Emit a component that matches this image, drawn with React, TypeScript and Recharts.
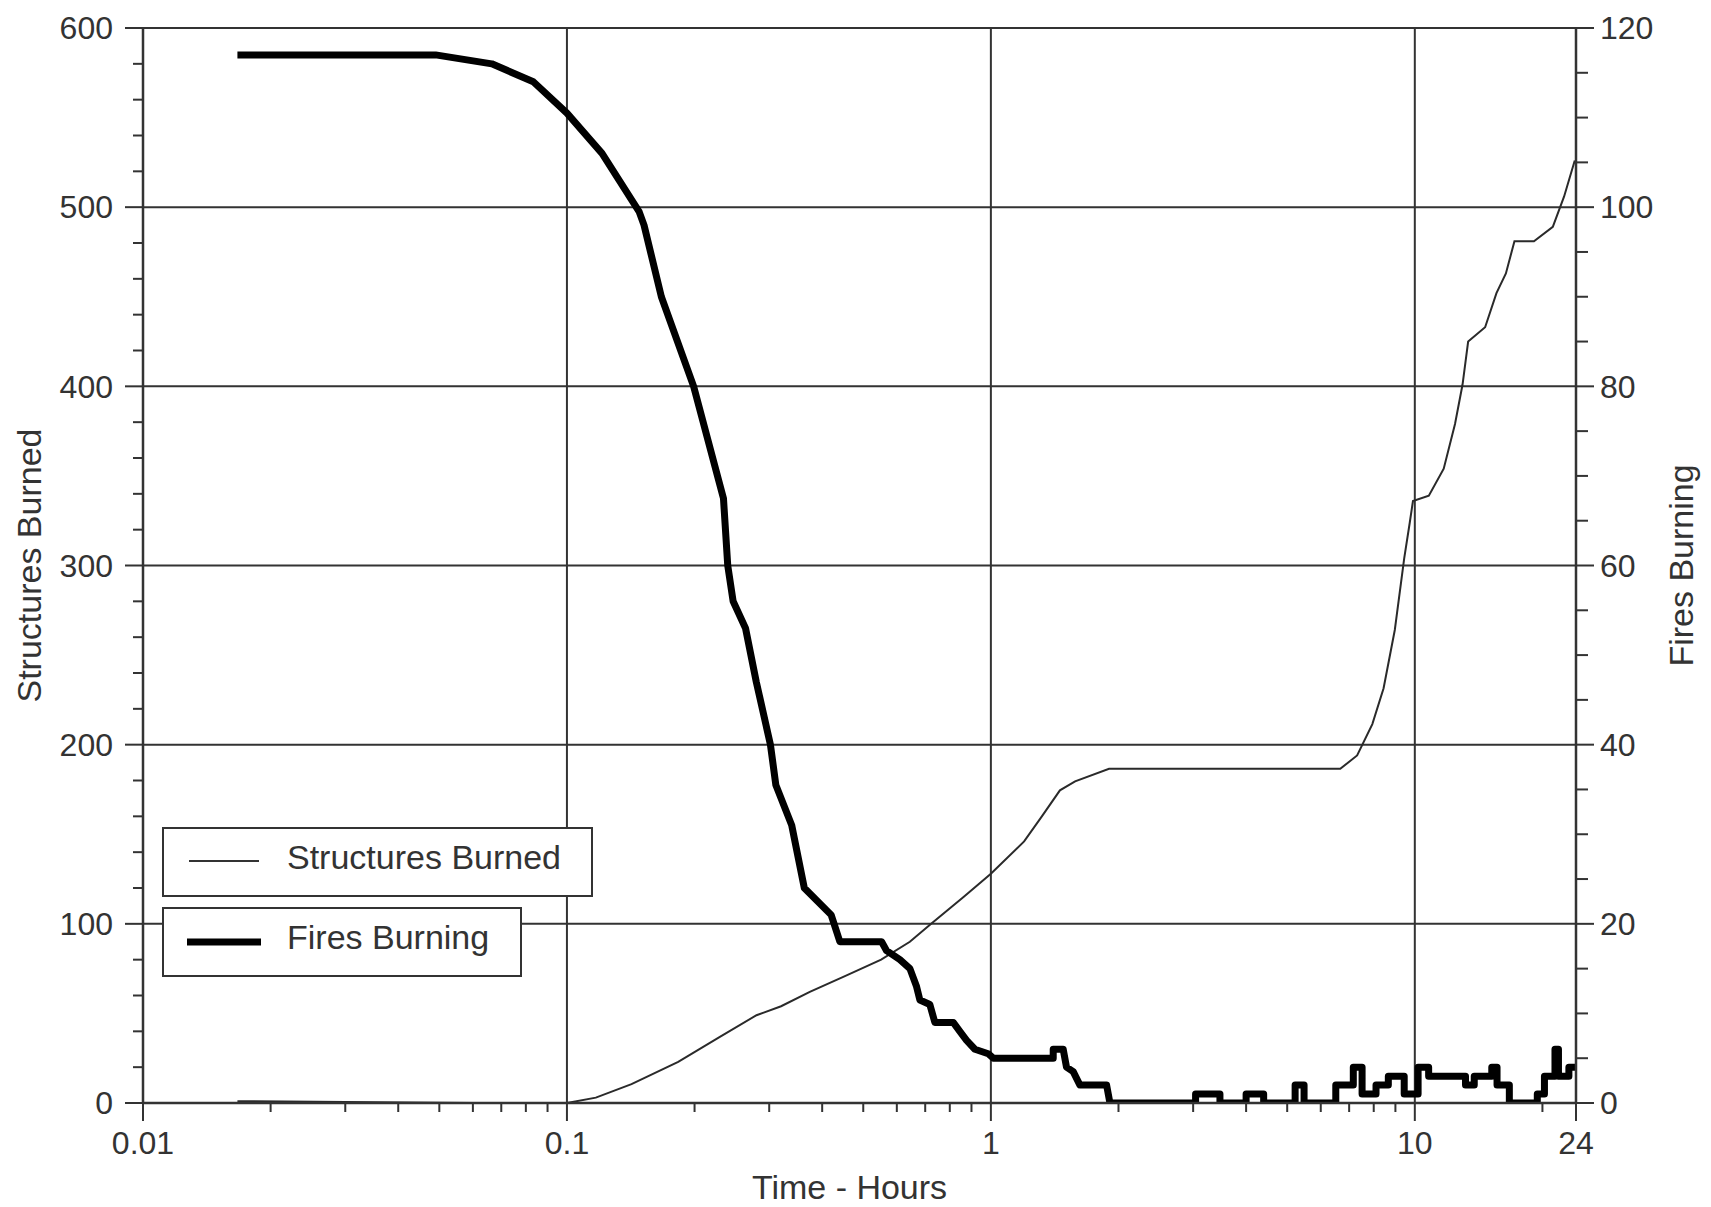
import React from "react";
import { LineChart, Line, XAxis, YAxis, ReferenceLine, Legend, Label } from "recharts";

const FONT = '"Liberation Sans", Arial, Helvetica, sans-serif';
const INK = "#333333";

// time axis, hours on a log scale
const timeTicks = [0.01, 0.1, 1, 10, 24];
const timeMinorTicks = [
  0.02, 0.03, 0.04, 0.05, 0.06, 0.07, 0.08, 0.09,
  0.2, 0.3, 0.4, 0.5, 0.6, 0.7, 0.8, 0.9,
  2, 3, 4, 5, 6, 7, 8, 9, 20,
];
const timeGrid = [0.1, 1, 10];

// left axis: structures burned
const structureTicks = [0, 20, 40, 60, 80, 100, 120, 140, 160, 180, 200, 220, 240, 260, 280, 300, 320, 340, 360, 380, 400, 420, 440, 460, 480, 500, 520, 540, 560, 580, 600];
const structureGrid = [100, 200, 300, 400, 500, 600];

// right axis: fires burning
const fireTicks = [0, 5, 10, 15, 20, 25, 30, 35, 40, 45, 50, 55, 60, 65, 70, 75, 80, 85, 90, 95, 100, 105, 110, 115, 120];

const structuresHours = [
  0.0167, 0.03, 0.06, 0.1, 0.117, 0.142, 0.183, 0.23, 0.28, 0.32, 0.374, 0.454, 0.551, 0.644, 0.723,
  0.862, 1.0, 1.198, 1.319, 1.455, 1.58, 1.9, 6.67, 7.31, 7.94, 8.44, 8.97, 9.44, 9.73, 9.9,
  10.79, 11.7, 12.44, 12.96, 13.36, 14.65, 15.58, 16.4, 17.18, 19.1, 21.16, 22.5, 23.84,
];
const structuresBurned = [
  1, 0.5, 0, 0, 3, 10.5, 23, 37, 49, 54, 62, 71, 80, 90, 100,
  115, 128, 146, 160, 174.5, 179.5, 186.5, 186.5, 194, 211.5, 231.5, 264, 304, 324, 336,
  339, 354, 379, 401, 425, 433, 452, 463, 481, 481, 489, 506, 526,
];

const firesHours = [
  0.0167, 0.049, 0.0665, 0.0833, 0.1, 0.121, 0.148, 0.152, 0.167, 0.199, 0.234, 0.2395, 0.2466, 0.2638,
  0.2797, 0.302, 0.311, 0.339, 0.363, 0.42, 0.4404, 0.5524, 0.5675, 0.6101, 0.6442, 0.6679, 0.68, 0.7178,
  0.7376, 0.815, 0.8449, 0.8764, 0.9169, 0.9856, 1.013, 1.403, 1.403, 1.481, 1.508, 1.564, 1.622, 1.875,
  1.909, 3.04, 3.04, 3.47, 3.47, 4.0, 4.0, 4.4, 4.4, 5.22, 5.22, 5.48, 5.48, 6.51, 6.51, 7.16, 7.16,
  7.51, 7.51, 8.1, 8.1, 8.66, 8.66, 9.44, 9.44, 10.18, 10.18, 10.78, 10.78, 13.17, 13.17, 13.81, 13.81,
  15.19, 15.19, 15.63, 15.63, 16.71, 16.71, 19.45, 19.45, 20.22, 20.22, 21.41, 21.41, 21.82, 21.82,
  23.09, 23.09, 24,
];
const firesBurning = [
  117, 117, 116, 114, 110.5, 106, 99.5, 98, 90, 80, 67.5, 60, 56, 53,
  47, 40, 35.5, 31, 24, 21, 18, 18, 17, 16, 15, 13, 11.5, 11,
  9, 9, 8, 7, 6, 5.5, 5, 5, 6, 6, 4, 3.5, 2, 2,
  0, 0, 1, 1, 0, 0, 1, 1, 0, 0, 2, 2, 0, 0, 2, 2, 4,
  4, 1, 1, 2, 2, 3, 3, 1, 1, 4, 4, 3, 3, 2, 2,
  3, 3, 4, 4, 2, 2, 0, 0, 1, 1, 3, 3, 6, 6,
  3, 3, 4, 4,
];

const structuresData = structuresHours.map((t, i) => ({ t, s: structuresBurned[i] }));
const firesData = firesHours.map((t, i) => ({ t, f: firesBurning[i] }));

const XTick = (props: any) => {
  const { x, y, payload } = props;
  const major = timeTicks.includes(payload.value);
  return (
    <g>
      <line x1={x} y1={y} x2={x} y2={y + (major ? 18 : 9)} stroke={INK} strokeWidth={2} />
      {major && (
        <text x={x} y={y + 51} textAnchor="middle" fontSize={32} fontFamily={FONT} fill={INK}>
          {payload.value}
        </text>
      )}
    </g>
  );
};

const LeftTick = (props: any) => {
  const { x, y, payload } = props;
  const major = payload.value % 100 === 0;
  return (
    <g>
      <line x1={x - (major ? 18 : 10)} y1={y} x2={x} y2={y} stroke={INK} strokeWidth={2} />
      {major && (
        <text x={x - 30} y={y} dy="0.35em" textAnchor="end" fontSize={32} fontFamily={FONT} fill={INK}>
          {payload.value}
        </text>
      )}
    </g>
  );
};

const RightTick = (props: any) => {
  const { x, y, payload } = props;
  const major = payload.value % 20 === 0;
  return (
    <g>
      <line x1={x} y1={y} x2={x + (major ? 18 : 12)} y2={y} stroke={INK} strokeWidth={2} />
      {major && (
        <text x={x + 24} y={y} dy="0.35em" textAnchor="start" fontSize={32} fontFamily={FONT} fill={INK}>
          {payload.value}
        </text>
      )}
    </g>
  );
};

const sideTitle = (text: string, dx: number) => (props: any) => {
  const { x, y, height } = props.viewBox;
  const cx = x + dx;
  const cy = y + height / 2;
  return (
    <text x={cx} y={cy} dy="0.35em" textAnchor="middle" fontSize={34} fontFamily={FONT} fill={INK}
      transform={`rotate(-90, ${cx}, ${cy})`}>
      {text}
    </text>
  );
};

const bottomTitle = (props: any) => {
  const { x, y, width } = props.viewBox;
  return (
    <text x={x + width / 2 - 10} y={y + 96} textAnchor="middle" fontSize={34} fontFamily={FONT} fill={INK}>
      Time - Hours
    </text>
  );
};

const LegendBoxes = () => (
  <svg width={440} height={152} style={{ display: "block" }}>
    <rect x={1} y={1} width={429} height={68} fill="#fff" stroke={INK} strokeWidth={2} />
    <line x1={27} y1={34} x2={97} y2={34} stroke={INK} strokeWidth={2} />
    <text x={125} y={42} fontSize={34} fontFamily={FONT} fill={INK}>Structures Burned</text>
    <rect x={1} y={81} width={358} height={68} fill="#fff" stroke={INK} strokeWidth={2} />
    <line x1={25} y1={115} x2={99} y2={115} stroke="#000" strokeWidth={7} />
    <text x={125} y={122} fontSize={34} fontFamily={FONT} fill={INK}>Fires Burning</text>
  </svg>
);

export default function App() {
  return (
    <div style={{ position: "absolute", left: 0, top: 0, width: 1711, height: 1207, background: "#fff" }}>
      <LineChart width={1711} height={1207} margin={{ top: 28, right: 0, bottom: 0, left: 0 }}>
        <XAxis
          dataKey="t"
          type="number"
          scale="log"
          domain={[0.01, 24]}
          allowDataOverflow
          ticks={[...timeTicks, ...timeMinorTicks]}
          interval={0}
          height={104}
          tickSize={0}
          tickMargin={0}
          tickLine={false}
          tick={<XTick />}
          axisLine={{ stroke: INK, strokeWidth: 2.5 }}
        >
          <Label content={bottomTitle} />
        </XAxis>
        <YAxis
          yAxisId="left"
          orientation="left"
          type="number"
          domain={[0, 600]}
          allowDataOverflow
          ticks={structureTicks}
          interval={0}
          width={143}
          tickSize={0}
          tickMargin={0}
          tickLine={false}
          tick={<LeftTick />}
          axisLine={{ stroke: INK, strokeWidth: 2.5 }}
        >
          <Label content={sideTitle("Structures Burned", 29)} />
        </YAxis>
        <YAxis
          yAxisId="right"
          orientation="right"
          type="number"
          domain={[0, 120]}
          allowDataOverflow
          ticks={fireTicks}
          interval={0}
          width={135}
          tickSize={0}
          tickMargin={0}
          tickLine={false}
          tick={<RightTick />}
          axisLine={{ stroke: INK, strokeWidth: 2.5 }}
        >
          <Label content={sideTitle("Fires Burning", 105)} />
        </YAxis>

        {timeGrid.map((v) => (
          <ReferenceLine key={`x${v}`} x={v} yAxisId="left" stroke={INK} strokeWidth={2} />
        ))}
        {structureGrid.map((v) => (
          <ReferenceLine key={`y${v}`} y={v} yAxisId="left" stroke={INK} strokeWidth={2} />
        ))}

        <Line
          yAxisId="left"
          data={structuresData}
          dataKey="s"
          type="linear"
          stroke="#2a2a2a"
          strokeWidth={2}
          dot={false}
          activeDot={false}
          isAnimationActive={false}
        />
        <Line
          yAxisId="right"
          data={firesData}
          dataKey="f"
          type="linear"
          stroke="#000"
          strokeWidth={7}
          strokeLinejoin="round"
          dot={false}
          activeDot={false}
          isAnimationActive={false}
        />

        <Legend
          layout="vertical"
          align="center"
          verticalAlign="middle"
          wrapperStyle={{ position: "absolute", left: 162, top: 827, width: 440, height: 152 }}
          content={() => <LegendBoxes />}
        />
      </LineChart>
    </div>
  );
}
